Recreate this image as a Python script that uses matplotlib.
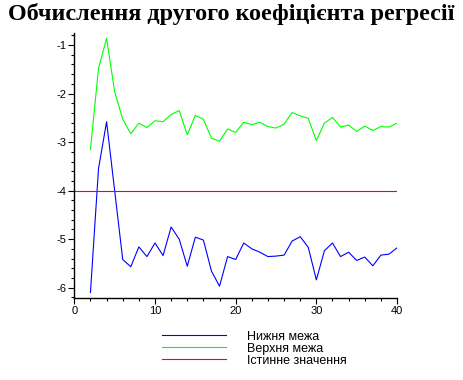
import matplotlib
matplotlib.use("Agg")
import matplotlib.pyplot as plt
from matplotlib.ticker import MultipleLocator

title = "Обчислення другого коефіцієнта регресії"
labels = ["Нижня межа", "Верхня межа", "Істинне значення"]

x = list(range(2, 41))
lower = [-6.10, -3.55, -2.58, -4.00, -5.42, -5.57, -5.16, -5.36, -5.08, -5.34,
         -4.75, -5.00, -5.56, -4.96, -5.02, -5.66, -5.97, -5.36, -5.42, -5.08,
         -5.20, -5.27, -5.36, -5.35, -5.33, -5.04, -4.95, -5.17, -5.84, -5.24,
         -5.08, -5.36, -5.27, -5.44, -5.37, -5.55, -5.33, -5.31, -5.18]
upper = [-3.15, -1.48, -0.86, -1.96, -2.53, -2.83, -2.61, -2.70, -2.56, -2.58,
         -2.43, -2.35, -2.85, -2.45, -2.53, -2.92, -2.98, -2.73, -2.80, -2.59,
         -2.64, -2.59, -2.68, -2.71, -2.63, -2.39, -2.46, -2.51, -2.97, -2.61,
         -2.49, -2.69, -2.65, -2.78, -2.67, -2.76, -2.68, -2.69, -2.61]
true_x = [0, 40]
true_value = [-4.0, -4.0]

plt.rcParams['font.family'] = ['Liberation Sans', 'DejaVu Sans']

fig = plt.figure(figsize=(4.63, 3.80), dpi=100)
ax = fig.add_axes([0.1605, 0.215, 0.697, 0.697])

lw = 0.8
ax.plot(x, lower, color=(0, 0, 1), lw=lw, label=labels[0])
ax.plot(x, upper, color=(0, 1, 0), lw=lw, label=labels[1])
ax.plot(true_x, true_value, color=(1, 0, 0), lw=lw, label=labels[2])

ax.set_xlim(0, 40)
ax.set_ylim(-6.22, -0.76)
for s in ['top', 'right']:
    ax.spines[s].set_visible(False)
for s in ['left', 'bottom']:
    ax.spines[s].set_linewidth(1.0)
ax.xaxis.set_major_locator(MultipleLocator(10))
ax.xaxis.set_minor_locator(MultipleLocator(2))
ax.yaxis.set_major_locator(MultipleLocator(1))
ax.yaxis.set_minor_locator(MultipleLocator(0.2))
ax.tick_params(which='major', length=4, width=0.8, labelsize=8, pad=1.5, direction='out')
ax.tick_params(which='minor', length=2, width=0.8, direction='out')
ax.xaxis.set_major_formatter(plt.FuncFormatter(lambda v, p: f"{int(round(v))}"))
ax.yaxis.set_major_formatter(plt.FuncFormatter(lambda v, p: f"-{int(round(abs(v)))}" if v < 0 else f"{int(round(v))}"))

fig.text(0.5, 0.963, title, ha='center', va='center', fontsize=17.4,
         fontweight='bold', family=['Liberation Serif', 'DejaVu Serif'])

leg = ax.legend(loc='upper left', bbox_to_anchor=(0.349, 0.13), bbox_transform=fig.transFigure,
                frameon=False, fontsize=9, handlelength=5.12, handletextpad=1.68,
                labelspacing=0.0, borderpad=0, borderaxespad=0)

fig.savefig("out.png", dpi=100)
